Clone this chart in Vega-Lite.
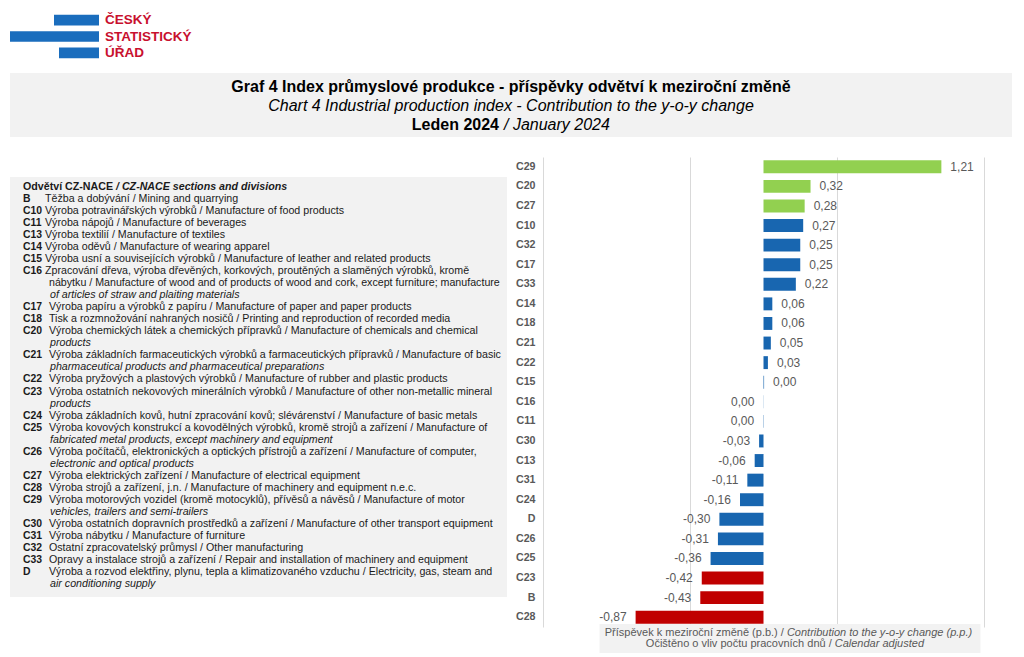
{
  "$schema": "https://vega.github.io/schema/vega-lite/v6.json",
  "background": "white",
  "padding": {"left": 10, "top": 12, "right": 0, "bottom": 0},
  "config": {
    "font": "Liberation Sans",
    "view": {"stroke": null},
    "locale": {"number": {"decimal": ",", "thousands": "\u00a0", "grouping": [3], "currency": ["", " Kč"], "minus": "-"}}
  },
  "spacing": 20,
  "vconcat": [
    {
      "spacing": 12,
      "vconcat": [
        {
          "width": 89,
          "height": 49,
          "data": {"values": [
            {"word": "ČESKÝ", "bar": 45},
            {"word": "STATISTICKÝ", "bar": 89},
            {"word": "ÚŘAD", "bar": 40}
          ]},
          "encoding": {
            "y": {"field": "word", "type": "nominal", "sort": null, "axis": null,
                  "scale": {"paddingInner": 0.35, "paddingOuter": 0.175}}
          },
          "layer": [
            {
              "mark": {"type": "bar", "color": "#1a6dbd"},
              "encoding": {
                "x": {"field": "bar", "type": "quantitative", "axis": null,
                      "scale": {"domain": [0, 89], "reverse": true, "nice": false, "zero": false}},
                "x2": {"datum": 0}
              }
            },
            {
              "mark": {"type": "text", "align": "left", "dx": 6, "baseline": "middle",
                       "fontWeight": "bold", "fontSize": 13.5, "color": "#c8102e"},
              "encoding": {
                "x": {"datum": 0, "type": "quantitative"},
                "text": {"field": "word"}
              }
            }
          ]
        },
        {
          "width": 1002,
          "height": 64,
          "view": {"fill": "#f2f2f2", "stroke": null},
          "data": {"values": [
            {"line": 1, "part": "a", "text": "Graf 4 Index průmyslové produkce - příspěvky odvětví k meziroční změně"},
            {"line": 2, "part": "b", "text": "Chart 4 Industrial production index - Contribution to the y-o-y change"},
            {"line": 3, "part": "c", "text": "Leden 2024"},
            {"line": 3, "part": "d", "text": "/ January 2024"}
          ]},
          "encoding": {
            "y": {"field": "line", "type": "quantitative", "axis": null,
                  "scale": {"domain": [0, 3.368], "reverse": true, "nice": false, "zero": false}},
            "text": {"field": "text"}
          },
          "layer": [
            {
              "transform": [{"filter": "datum.part == 'a'"}],
              "mark": {"type": "text", "fontWeight": "bold", "fontSize": 16, "baseline": "alphabetic", "color": "#000000"}
            },
            {
              "transform": [{"filter": "datum.part == 'b'"}],
              "mark": {"type": "text", "fontStyle": "italic", "fontSize": 16, "baseline": "alphabetic", "color": "#000000"}
            },
            {
              "transform": [{"filter": "datum.part == 'c'"}],
              "mark": {"type": "text", "fontWeight": "bold", "fontSize": 16, "baseline": "alphabetic", "align": "right", "dx": -12, "color": "#000000"}
            },
            {
              "transform": [{"filter": "datum.part == 'd'"}],
              "mark": {"type": "text", "fontStyle": "italic", "fontSize": 16, "baseline": "alphabetic", "align": "left", "dx": -7, "color": "#000000"}
            }
          ]
        }
      ]
    },
    {
      "spacing": 8,
      "hconcat": [
        {
          "width": 497,
          "height": 470,
          "data": {"values": [
            {"line": 2, "code": "B", "text": "Těžba a dobývání / Mining and quarrying", "lang": "cs"},
            {"line": 3, "code": "C10", "text": "Výroba potravinářských výrobků / Manufacture of food products", "lang": "cs"},
            {"line": 4, "code": "C11", "text": "Výroba nápojů / Manufacture of beverages", "lang": "cs"},
            {"line": 5, "code": "C13", "text": "Výroba textilií / Manufacture of textiles", "lang": "cs"},
            {"line": 6, "code": "C14", "text": "Výroba oděvů / Manufacture of wearing apparel", "lang": "cs"},
            {"line": 7, "code": "C15", "text": "Výroba usní a souvisejících výrobků / Manufacture of leather and related products", "lang": "cs"},
            {"line": 8, "code": "C16", "text": "Zpracování dřeva, výroba dřevěných, korkových, proutěných a slaměných výrobků, kromě", "lang": "cs"},
            {"line": 9, "code": "", "text": "nábytku / Manufacture of wood and of products of wood and cork, except furniture; manufacture", "lang": "cs"},
            {"line": 10, "code": "", "text": "of articles of straw and plaiting materials", "lang": "en"},
            {"line": 11, "code": "C17", "text": "Výroba papíru a výrobků z papíru / Manufacture of paper and paper products", "lang": "cs"},
            {"line": 12, "code": "C18", "text": "Tisk a rozmnožování nahraných nosičů / Printing and reproduction of recorded media", "lang": "cs"},
            {"line": 13, "code": "C20", "text": "Výroba chemických látek a chemických přípravků / Manufacture of chemicals and chemical", "lang": "cs"},
            {"line": 14, "code": "", "text": "products", "lang": "en"},
            {"line": 15, "code": "C21", "text": "Výroba základních farmaceutických výrobků a farmaceutických přípravků / Manufacture of basic", "lang": "cs"},
            {"line": 16, "code": "", "text": "pharmaceutical products and pharmaceutical preparations", "lang": "en"},
            {"line": 17, "code": "C22", "text": "Výroba pryžových a plastových výrobků / Manufacture of rubber and plastic products", "lang": "cs"},
            {"line": 18, "code": "C23", "text": "Výroba ostatních nekovových minerálních výrobků / Manufacture of other non-metallic mineral", "lang": "cs"},
            {"line": 19, "code": "", "text": "products", "lang": "en"},
            {"line": 20, "code": "C24", "text": "Výroba základních kovů, hutní zpracování kovů; slévárenství / Manufacture of basic metals", "lang": "cs"},
            {"line": 21, "code": "C25", "text": "Výroba kovových konstrukcí a kovodělných výrobků, kromě strojů a zařízení / Manufacture of", "lang": "cs"},
            {"line": 22, "code": "", "text": "fabricated metal products, except machinery and equipment", "lang": "en"},
            {"line": 23, "code": "C26", "text": "Výroba počítačů, elektronických a optických přístrojů a zařízení / Manufacture of computer,", "lang": "cs"},
            {"line": 24, "code": "", "text": "electronic and optical products", "lang": "en"},
            {"line": 25, "code": "C27", "text": "Výroba elektrických zařízení / Manufacture of electrical equipment", "lang": "cs"},
            {"line": 26, "code": "C28", "text": "Výroba strojů a zařízení, j.n. / Manufacture of machinery and equipment n.e.c.", "lang": "cs"},
            {"line": 27, "code": "C29", "text": "Výroba motorových vozidel (kromě motocyklů), přívěsů a návěsů / Manufacture of motor", "lang": "cs"},
            {"line": 28, "code": "", "text": "vehicles, trailers and semi-trailers", "lang": "en"},
            {"line": 29, "code": "C30", "text": "Výroba ostatních dopravních prostředků a zařízení / Manufacture of other transport equipment", "lang": "cs"},
            {"line": 30, "code": "C31", "text": "Výroba nábytku / Manufacture of furniture", "lang": "cs"},
            {"line": 31, "code": "C32", "text": "Ostatní zpracovatelský průmysl / Other manufacturing", "lang": "cs"},
            {"line": 32, "code": "C33", "text": "Opravy a instalace strojů a zařízení / Repair and installation of machinery and equipment", "lang": "cs"},
            {"line": 33, "code": "D", "text": "Výroba a rozvod elektřiny, plynu, tepla a klimatizovaného vzduchu / Electricity, gas, steam and", "lang": "cs"},
            {"line": 34, "code": "", "text": "air conditioning supply", "lang": "en"}
          ]},
          "layer": [
            {
              "data": {"values": [{}]},
              "mark": {"type": "rect", "color": "#f2f2f2", "x": 0, "x2": 497, "y": 20, "y2": 440},
              "encoding": {}
            },
            {
              "encoding": {
                "y": {"field": "line", "type": "quantitative", "axis": null,
                      "scale": {"domain": [-1.494, 37.575], "reverse": true, "nice": false, "zero": false}}
              },
              "layer": [
                {
                  "data": {"values": [{"line": 1, "a": "Odvětví CZ-NACE", "b": "/ CZ-NACE sections and divisions"}]},
                  "layer": [
                    {
                      "mark": {"type": "text", "align": "left", "baseline": "middle", "fontWeight": "bold", "fontSize": 10.67, "color": "#1a1a1a"},
                      "encoding": {"x": {"value": 13}, "text": {"field": "a"}}
                    },
                    {
                      "mark": {"type": "text", "align": "left", "baseline": "middle", "fontWeight": "bold", "fontStyle": "italic", "fontSize": 10.67, "color": "#1a1a1a"},
                      "encoding": {"x": {"value": 106}, "text": {"field": "b"}}
                    }
                  ]
                },
                {
                  "mark": {"type": "text", "align": "left", "baseline": "middle", "fontWeight": "bold", "fontSize": 10.4, "color": "#1a1a1a"},
                  "encoding": {"x": {"value": 13}, "text": {"field": "code"}}
                },
                {
                  "transform": [{"filter": "datum.lang == 'cs' && datum.line <= 8"}],
                  "mark": {"type": "text", "align": "left", "baseline": "middle", "fontSize": 10.67, "color": "#1a1a1a"},
                  "encoding": {"x": {"value": 35}, "text": {"field": "text"}}
                },
                {
                  "transform": [{"filter": "datum.lang == 'cs' && datum.line > 8"}],
                  "mark": {"type": "text", "align": "left", "baseline": "middle", "fontSize": 10.67, "color": "#1a1a1a"},
                  "encoding": {"x": {"value": 39}, "text": {"field": "text"}}
                },
                {
                  "transform": [{"filter": "datum.lang == 'en'"}],
                  "mark": {"type": "text", "align": "left", "baseline": "middle", "fontStyle": "italic", "fontSize": 10.67, "color": "#1a1a1a"},
                  "encoding": {"x": {"value": 40}, "text": {"field": "text"}}
                }
              ]
            }
          ]
        },
        {
          "width": 441,
          "height": 470,
          "data": {"values": [
            {"code": "C29", "value": 1.21, "group": "top"},
            {"code": "C20", "value": 0.32, "group": "top"},
            {"code": "C27", "value": 0.28, "group": "top"},
            {"code": "C10", "value": 0.27, "group": "other"},
            {"code": "C32", "value": 0.25, "group": "other"},
            {"code": "C17", "value": 0.25, "group": "other"},
            {"code": "C33", "value": 0.22, "group": "other"},
            {"code": "C14", "value": 0.06, "group": "other"},
            {"code": "C18", "value": 0.06, "group": "other"},
            {"code": "C21", "value": 0.05, "group": "other"},
            {"code": "C22", "value": 0.03, "group": "other"},
            {"code": "C15", "value": 0.004, "group": "other"},
            {"code": "C16", "value": -0.001, "group": "other"},
            {"code": "C11", "value": -0.002, "group": "other"},
            {"code": "C30", "value": -0.03, "group": "other"},
            {"code": "C13", "value": -0.06, "group": "other"},
            {"code": "C31", "value": -0.11, "group": "other"},
            {"code": "C24", "value": -0.16, "group": "other"},
            {"code": "D", "value": -0.30, "group": "other"},
            {"code": "C26", "value": -0.31, "group": "other"},
            {"code": "C25", "value": -0.36, "group": "other"},
            {"code": "C23", "value": -0.42, "group": "bottom"},
            {"code": "B", "value": -0.43, "group": "bottom"},
            {"code": "C28", "value": -0.87, "group": "bottom"}
          ]},
          "encoding": {
            "y": {"field": "code", "type": "nominal", "sort": null,
                  "scale": {"paddingInner": 0.34, "paddingOuter": 0.17},
                  "axis": {"title": null, "ticks": false, "domain": false, "grid": false, "labelPadding": 8,
                           "labelFontWeight": "bold", "labelFontSize": 10.67, "labelColor": "#595959", "labelFont": "Liberation Sans"}}
          },
          "layer": [
            {
              "data": {"values": [{}]},
              "mark": {"type": "rect", "color": "#f2f2f2"},
              "encoding": {
                "x": {"datum": -1.1156, "type": "quantitative"},
                "x2": {"datum": 1.476},
                "y": {"value": 467},
                "y2": {"value": 496}
              }
            },
            {
              "mark": {"type": "bar"},
              "encoding": {
                "x": {"field": "value", "type": "quantitative",
                      "scale": {"domain": [-1.5, 1.5], "nice": false, "zero": false},
                      "axis": {"values": [-1.5, -0.5, 0.5, 1.5], "labels": false, "ticks": false, "domain": false,
                               "title": null, "grid": true, "gridColor": "#d9d9d9", "gridWidth": 1}},
                "x2": {"datum": 0},
                "color": {"field": "group", "type": "nominal", "legend": null,
                          "scale": {"domain": ["top", "other", "bottom"], "range": ["#92d050", "#1866b0", "#c00000"]}}
              }
            },
            {
              "transform": [{"filter": "datum.value >= 0"}],
              "mark": {"type": "text", "align": "left", "baseline": "middle", "dx": 9, "fontSize": 12, "color": "#595959"},
              "encoding": {
                "x": {"field": "value", "type": "quantitative"},
                "text": {"field": "value", "type": "quantitative", "format": ".2f"}
              }
            },
            {
              "transform": [{"filter": "datum.value < 0"}],
              "mark": {"type": "text", "align": "right", "baseline": "middle", "dx": -9, "fontSize": 12, "color": "#595959"},
              "encoding": {
                "x": {"field": "value", "type": "quantitative"},
                "text": {"field": "value", "type": "quantitative", "format": ".2f"}
              }
            },
            {
              "data": {"values": [{}]},
              "mark": {"type": "text", "align": "right", "baseline": "middle", "dx": -1, "fontSize": 11, "color": "#595959",
                       "text": "Příspěvek k meziroční změně (p.b.) /"},
              "encoding": {"x": {"datum": 0.1456, "type": "quantitative"}, "y": {"value": 476}}
            },
            {
              "data": {"values": [{}]},
              "mark": {"type": "text", "align": "left", "baseline": "middle", "dx": 2, "fontSize": 11, "fontStyle": "italic", "color": "#595959",
                       "text": "Contribution to the y-o-y change (p.p.)"},
              "encoding": {"x": {"datum": 0.1456, "type": "quantitative"}, "y": {"value": 476}}
            },
            {
              "data": {"values": [{}]},
              "mark": {"type": "text", "align": "right", "baseline": "middle", "dx": -1, "fontSize": 11, "color": "#595959",
                       "text": "Očištěno o vliv počtu pracovních dnů /"},
              "encoding": {"x": {"datum": 0.471, "type": "quantitative"}, "y": {"value": 487}}
            },
            {
              "data": {"values": [{}]},
              "mark": {"type": "text", "align": "left", "baseline": "middle", "dx": 2, "fontSize": 11, "fontStyle": "italic", "color": "#595959",
                       "text": "Calendar adjusted"},
              "encoding": {"x": {"datum": 0.471, "type": "quantitative"}, "y": {"value": 487}}
            }
          ]
        }
      ]
    }
  ]
}
